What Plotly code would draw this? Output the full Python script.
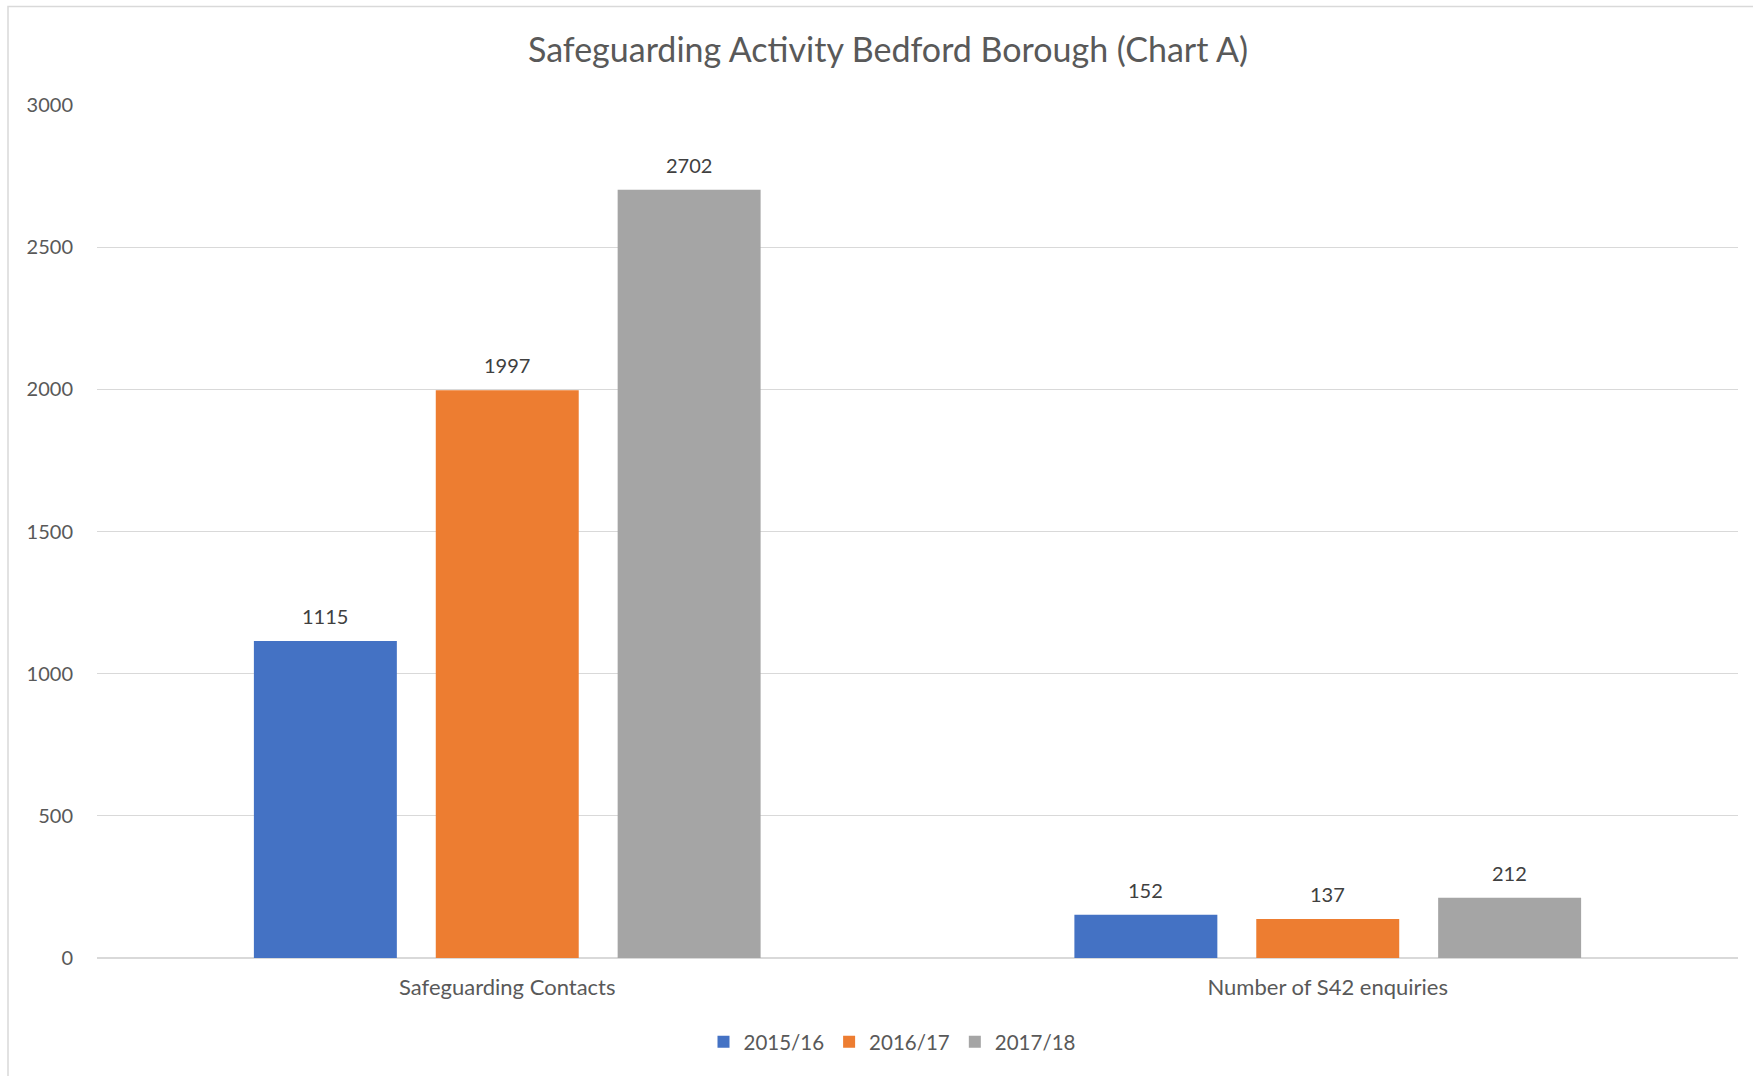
import plotly.graph_objects as go

categories = ["Safeguarding Contacts", "Number of S42 enquiries"]
series_names = ["2015/16", "2016/17", "2017/18"]
values_2015 = [1115, 152]
values_2016 = [1997, 137]
values_2017 = [2702, 212]
series_values = [values_2015, values_2016, values_2017]
colors = ["#4472C4", "#ED7D31", "#A5A5A5"]
y_ticks = [0, 500, 1000, 1500, 2000, 2500, 3000]

FONT = "Lato"
W, H = 1753, 1076
ml, mr, mt, mb = 97, 15, 105, 118

fig = go.Figure()
for name, vals, col in zip(series_names, series_values, colors):
    fig.add_trace(go.Bar(x=categories, y=vals, name=name, marker=dict(color=col, line=dict(width=0))))

# data labels above bars
plot_w = W - ml - mr
cat_w = plot_w / len(categories)
bargap = 0.335
slot = cat_w * (1 - bargap) / 3
for i, vals in enumerate(series_values):
    for c, v in zip(categories, vals):
        fig.add_annotation(x=c, y=v, text=str(v), showarrow=False,
                           xshift=(i - 1) * slot, yshift=25, yanchor="middle",
                           font=dict(family=FONT, size=20, color="#404040"))

# chart area border
px = lambda p: (p - ml) / plot_w
py = lambda p: (H - mb - p) / (H - mt - mb)
fig.add_shape(type="rect", xref="paper", yref="paper",
              x0=px(8), x1=px(1770), y0=py(1090), y1=py(6.5),
              line=dict(color="#D9D9D9", width=1.5), fillcolor="rgba(0,0,0,0)", layer="below")

fig.update_layout(
    width=W, height=H,
    margin=dict(l=ml, r=mr, t=mt, b=mb),
    paper_bgcolor="white", plot_bgcolor="white",
    barmode="group", bargap=bargap, bargroupgap=0.214,
    title=dict(text="Safeguarding Activity Bedford Borough (Chart A)",
               x=888 / W, xref="container", xanchor="center",
               y=1 - 50 / H, yref="container", yanchor="middle",
               font=dict(family=FONT, size=34, color="#595959")),
    font=dict(family=FONT, size=20, color="#595959"),
    legend=dict(orientation="h", x=px(892), xanchor="center",
                y=1 - 1042 / H, yref="container", yanchor="middle",
                font=dict(family=FONT, size=20.5, color="#595959"),
                itemwidth=30, traceorder="normal"),
    xaxis=dict(showgrid=False, showline=False, ticks="", ticklabelstandoff=14,
               tickfont=dict(family=FONT, size=22, color="#595959")),
    yaxis=dict(range=[0, 3000], tickvals=y_ticks, showgrid=True, gridcolor="#D9D9D9", gridwidth=1.2,
               zeroline=True, zerolinecolor="#D9D9D9", zerolinewidth=2, showline=False,
               ticks="", ticklabelstandoff=23,
               tickfont=dict(family=FONT, size=20, color="#595959")),
)

fig.write_html("out.html", config={"displayModeBar": False},
               post_script="document.body.style.margin='0';document.body.style.overflow='hidden';")
